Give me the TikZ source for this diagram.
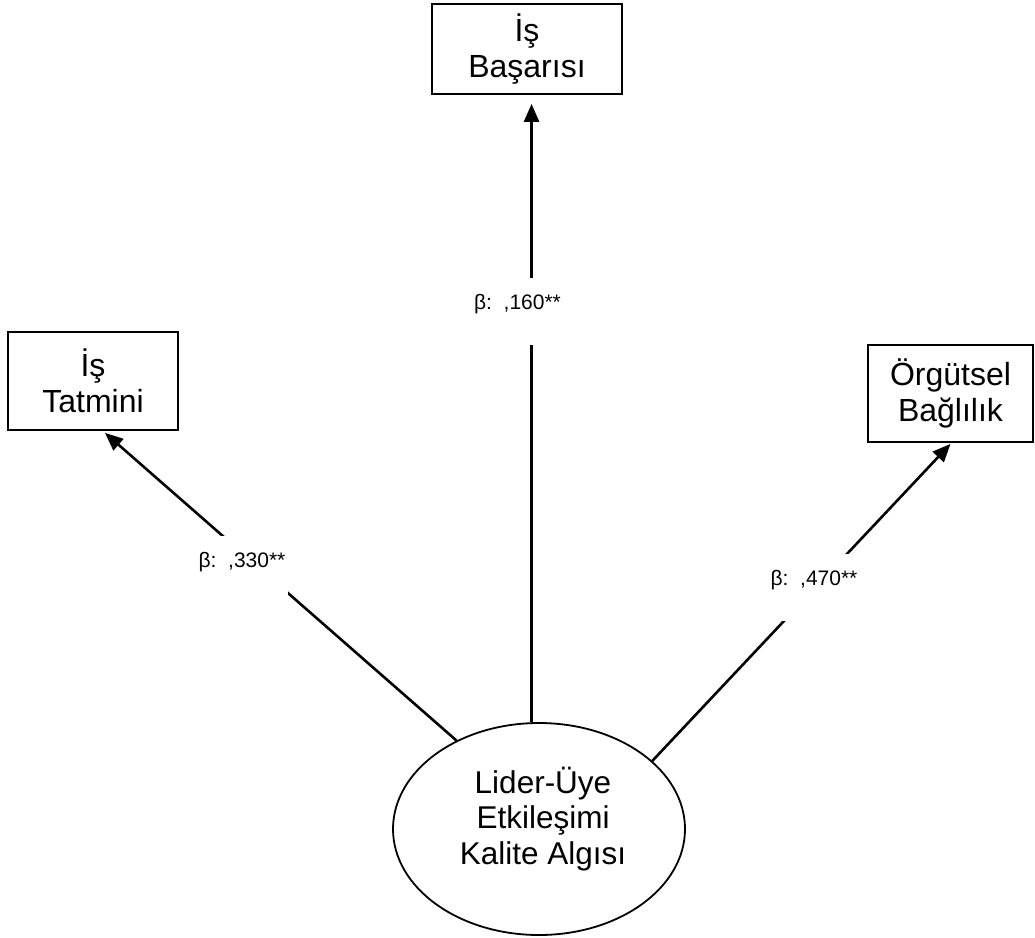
\documentclass[tikz,border=0pt]{standalone}
\usepackage{fontspec}
\setmainfont{Liberation Sans}
\usetikzlibrary{arrows.meta,shapes.geometric,calc}
\begin{document}
\begin{tikzpicture}[x=1pt,y=-1pt,
  varbox/.style={draw=black,line width=1.8pt,rectangle,inner sep=0pt,align=center,
    font=\fontsize{32}{36.5}\selectfont},
  arrowline/.style={draw=black,line width=2.6pt,-{Triangle[length=18pt,width=15pt]}},
  coef/.style={fill=white,inner xsep=3pt,inner ysep=0pt,text height=31pt,text depth=36pt,
    anchor=base,font=\fontsize{21}{25}\selectfont}]
\useasboundingbox (0,0) rectangle (1035,937);
% boxes
\node[varbox,minimum width=190pt,minimum height=90pt] (bas) at (527,49) {İş\\Başarısı};
\node[varbox,minimum width=170pt,minimum height=98pt] (tat) at (93,381) {İş\\Tatmini};
\node[varbox,minimum width=165pt,minimum height=97pt] (org) at (950.5,393.5) {Örgütsel\\Bağlılık};
% ellipse
\node[ellipse,draw=black,line width=1.8pt,minimum width=292pt,minimum height=212pt,inner sep=0pt] (el) at (539,829) {};
\node[align=center,font=\fontsize{31.5}{35.5}\selectfont] (eltext) at (543,819) {Lider-Üye\\Etkileşimi\\Kalite Algısı};
% tips
\coordinate (tatTip) at ($(tat.south)+(12,2)$);
\coordinate (orgTip) at ($(org.south)+(0,1)$);
% connectors
\draw[arrowline,shorten >=9pt] (el.94) -- (el.94 |- bas.south);
\draw[arrowline] (el.133) -- (tatTip);
\draw[arrowline] (el.31.5) -- (orgTip);
% coefficients
\node[coef] (c160) at (517.5,309) {β:\ \ ,160**};
\node[coef] (c330) at (242,567) {β:\ \ ,330**};
\node[coef] (c470) at (814,585) {β:\ \ ,470**};
\end{tikzpicture}
\end{document}
